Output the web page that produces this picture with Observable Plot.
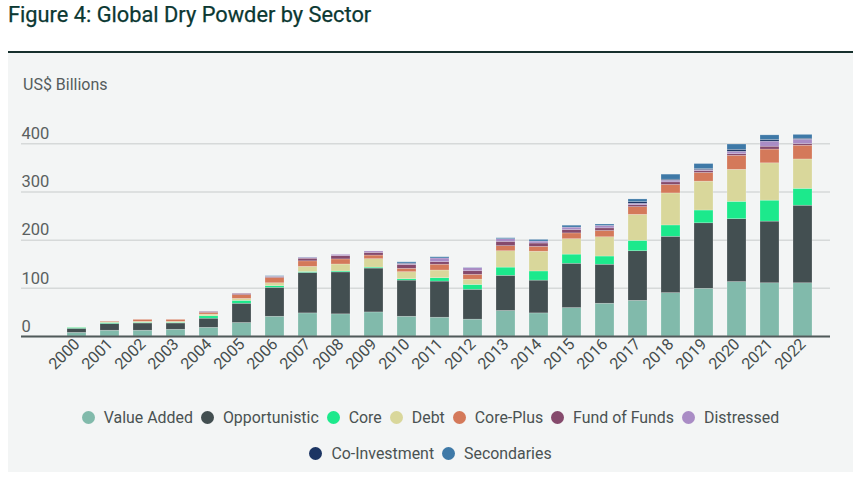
<!DOCTYPE html>
<html>
<head>
<meta charset="utf-8">
<script src="https://cdn.jsdelivr.net/npm/d3@7"></script>
<script src="https://cdn.jsdelivr.net/npm/@observablehq/plot@0.6"></script>
<style>
  body { margin: 0; background: #ffffff; font-family: Roboto, "Noto Sans", sans-serif; width: 860px; height: 482px; position: relative; overflow: hidden; }
  #title { position: absolute; left: 8px; top: 1px; font-size: 21.8px; line-height: 28px; color: #0b3832; white-space: nowrap; -webkit-text-stroke: 0.25px #0b3832; }
  #rule { position: absolute; left: 8px; top: 51px; width: 845px; height: 2px; background: #16302d; }
  #panel { position: absolute; left: 8px; top: 53px; width: 845px; height: 419px; background: #f3f5f5; }
  #unit { position: absolute; left: 23px; top: 75px; font-size: 16px; color: #555c5c; }
  #chart { position: absolute; left: 8px; top: 53px; }
  #legend { position: absolute; left: 8px; top: 399px; width: 845px; font-size: 15.9px; color: #4a5252; }
  .row { display: flex; justify-content: center; align-items: center; height: 36px; }
  .item { display: flex; align-items: center; margin: 0 4px; }
  .dot { width: 13px; height: 13px; border-radius: 50%; margin-right: 9px; }
</style>
</head>
<body>
<div id="title">Figure 4: Global Dry Powder by Sector</div>
<div id="rule"></div>
<div id="panel"></div>
<div id="unit">US$ Billions</div>
<div id="chart"></div>
<div id="legend"></div>
<script>
const years = ["2000","2001","2002","2003","2004","2005","2006","2007","2008","2009","2010","2011","2012","2013","2014","2015","2016","2017","2018","2019","2020","2021","2022"];
const sectors = ["Value Added","Opportunistic","Core","Debt","Core-Plus","Fund of Funds","Distressed","Co-Investment","Secondaries"];
const colors = ["#81baab","#434f51","#1ce98c","#d9d79b","#d4795a","#854a6c","#a98cc5","#1c3563","#3e79a7"];
const yTicks = [0,100,200,300,400];

const valueAdded    = [7.5,12,12,14,18,28,41,48,46,50,41,39,35,53,48,59,68,74,90,99,113,110.5,110.5];
const opportunistic = [8.5,14,15,13,19,40,60,84,87,91,75,75,62,73,68,92,81,103,117,136,130.5,128,161];
const core          = [2,2,1.5,1.5,5,6,3.5,2,2,2,3,7,10,17,19,19,17,21.5,23.5,26.5,36,43.5,35];
const debt          = [0.5,1.5,2,2,3.5,4,6,10.5,14.5,17.5,14.5,16,11,34,41,32,40,54,66.5,60,66.5,77.5,61];
const corePlus      = [0,1.5,4,4,3.5,8,11,11.5,10.5,7.5,7,12,10,10.5,10,12,13,16,17.5,18,29,28.5,28.5];
const fundOfFunds   = [0,0,0,0,2,2.5,2,5.5,7,5.5,8,5.5,7.5,9,7,7,5.5,4,5.5,4,3.5,6,3.5];
const distressed    = [0,0,0,0,0.5,0.5,0.5,2,2.5,3,2,7.5,6.5,5.5,4,5,5,3,3.5,2,5,10.5,9];
const coInvestment  = [0,0,0,0,0,0,0.3,0,0,0,1,0,0,0,0,0,0,3.5,2,2,4,3.5,2];
const secondaries   = [0,0,0,0,0,0,1,0.5,0,0,2.5,2.5,0.5,2,3.5,4,3,5.5,10.5,10.5,11,9.5,8];

const series = [valueAdded, opportunistic, core, debt, corePlus, fundOfFunds, distressed, coInvestment, secondaries];
const data = [];
sectors.forEach((s, i) => years.forEach((yr, j) => data.push({year: yr, sector: s, value: series[i][j]})));

const chart = Plot.plot({
  width: 845,
  height: 340,
  marginLeft: 13,
  marginRight: 23,
  marginTop: 90.3,
  marginBottom: 57,
  style: {background: "transparent", fontFamily: "Roboto, sans-serif", overflow: "visible"},
  x: {domain: years, range: [36.2, 827.5], padding: 0.41, label: null},
  y: {domain: [0, 400], label: null},
  color: {domain: sectors, range: colors},
  marks: [
    Plot.gridY(yTicks, {stroke: "#d6d9d9", strokeOpacity: 1, strokeWidth: 1.5}),
    Plot.axisY(yTicks, {tickSize: 0, tickPadding: 0, textAnchor: "start", dx: 0, dy: -10, fontSize: 16.5, fill: "#5a6060", label: null}),
    Plot.barY(data, {x: "year", y: "value", fill: "sector", order: sectors, stroke: "#ffffff", strokeOpacity: 0.35, strokeWidth: 0.6}),
    Plot.ruleY([0], {stroke: "#505a5a", strokeWidth: 2}),
    Plot.axisX({tickRotate: -45, tickSize: 0, tickPadding: 5, fontSize: 16, fill: "#454d4d", label: null})
  ]
});
document.getElementById("chart").appendChild(chart);

const legend = document.getElementById("legend");
const rows = [sectors.slice(0, 7), sectors.slice(7)];
rows.forEach(r => {
  const row = document.createElement("div");
  row.className = "row";
  r.forEach(s => {
    const it = document.createElement("div");
    it.className = "item";
    const d = document.createElement("span");
    d.className = "dot";
    d.style.background = colors[sectors.indexOf(s)];
    const t = document.createElement("span");
    t.textContent = s;
    it.appendChild(d); it.appendChild(t);
    row.appendChild(it);
  });
  legend.appendChild(row);
});
</script>
</body>
</html>
